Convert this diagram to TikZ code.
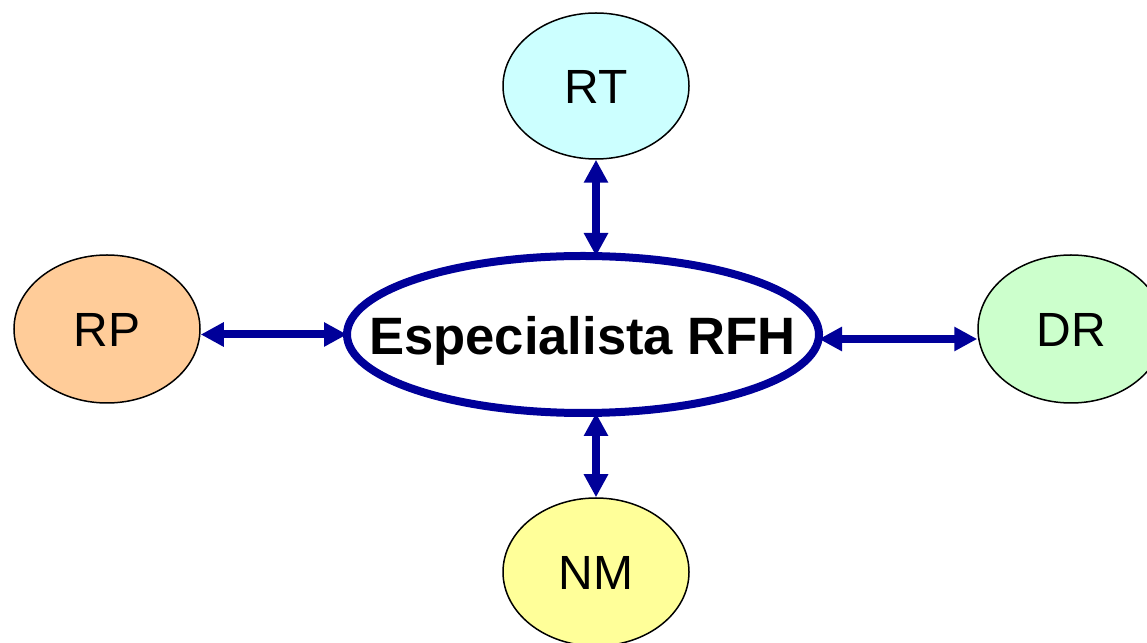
\documentclass[tikz,border=0pt]{standalone}
\usepackage{fontspec}
\setmainfont{Liberation Sans}
\usetikzlibrary{shapes.geometric,arrows.meta}
\definecolor{navy}{HTML}{000099}
\definecolor{cyanfill}{HTML}{CCFFFF}
\definecolor{peachfill}{HTML}{FFCC99}
\definecolor{mintfill}{HTML}{CCFFCC}
\definecolor{lemonfill}{HTML}{FFFF99}
\tikzset{
  role/.style={ellipse, draw=black, line width=1.5pt, inner sep=0pt,
    minimum width=186pt, minimum height=148pt,
    font=\fontsize{48pt}{56pt}\selectfont, text height=34.4pt, text depth=0pt},
  hub/.style={ellipse, draw=navy, line width=8pt, fill=white, inner sep=0pt,
    outer sep=0pt, minimum width=472pt, minimum height=157pt},
  hubtext/.style={inner sep=0pt,
    font=\bfseries\fontsize{52.6pt}{60pt}\selectfont, text height=37.7pt, text depth=0pt},
  link/.style={draw=navy, line width=8pt,
    {Triangle[length=23pt,width=23pt]}-{Triangle[length=23pt,width=23pt]}}
}
\begin{document}
\begin{tikzpicture}[x=1pt,y=1pt]
  \useasboundingbox (0,0) rectangle (1147,642);
  \fill[white] (0,0) rectangle (1147,642);
  \begin{scope}
    \clip (0,0) rectangle (1147,642);
    \node[hub] (c) at (583,307.5) {};
    \node[hubtext] (ct) at (582.5,306.5) {Especialista RFH};
    \node[role, fill=cyanfill, minimum height=146pt] (rt) at (596,556) {RT};
    \node[role, fill=peachfill] (rp) at (107,313) {RP};
    \node[role, fill=mintfill] (dr) at (1071,313) {DR};
    \node[role, fill=lemonfill] (nm) at (596,70) {NM};
    \coordinate (dra) at ([yshift=-4.5pt]c.east);
    \draw[link] (rt.south) -- (rt.south |- c.north);
    \draw[link] (rp.east |- c.west) -- (c.west);
    \draw[link] (dra) -- (dra -| dr.west);
    \draw[link] (c.south -| nm.north) -- (nm.north);
  \end{scope}
\end{tikzpicture}
\end{document}
